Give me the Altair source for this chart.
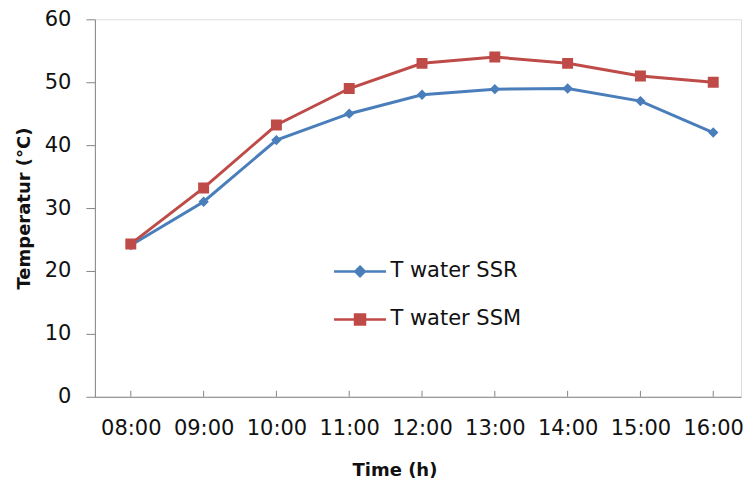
import altair as alt
import pandas as pd

# ---- data ----
times = ["08:00", "09:00", "10:00", "11:00", "12:00", "13:00", "14:00", "15:00", "16:00"]
ssr = [24.1, 31, 40.8, 45, 48, 48.9, 49, 47, 42]
ssm = [24.3, 33.2, 43.2, 49, 53, 54, 53, 51, 50]
series_names = ["T water SSR", "T water SSM"]
colors = ["#4A7EBB", "#BE4B48"]
# marker paths (unit box); the horizontal sub-path is only visible where a stroke is
# drawn, i.e. in the legend, giving the Excel-like "line with marker" legend symbol
shapes = [
    "M-5.2,0H5.2M0,-0.95L0.95,0L0,0.95L-0.95,0Z",
    "M-5.2,0H5.2M-1,-1H1V1H-1Z",
]
y_ticks = [0, 10, 20, 30, 40, 50, 60]

rows = []
for t, a, b in zip(times, ssr, ssm):
    rows.append({"time": t, "series": series_names[0], "value": a})
    rows.append({"time": t, "series": series_names[1], "value": b})
df = pd.DataFrame(rows)
tick_df = pd.DataFrame({"time": times})

FONT = "DejaVu Sans"
TXT = "#111111"
AX = "#868686"

xscale = alt.Scale(type="point", domain=times, padding=0.4375, align=0.564)
yscale = alt.Scale(domain=[0, 60], nice=False, zero=True)

x_enc = alt.X(
    "time:N", scale=xscale, sort=times,
    axis=alt.Axis(
        title="Time (h)", labelAngle=0, labelAlign="center", ticks=False, grid=False,
        domainColor=AX, domainWidth=1,
        labelFont=FONT, labelFontSize=21, labelColor=TXT, labelPadding=32,
        titleFont=FONT, titleFontSize=18, titleFontWeight="bold", titleColor=TXT,
        titlePadding=23, titleX=300, titleAlign="center",
    ),
)
y_enc = alt.Y(
    "value:Q", scale=yscale,
    axis=alt.Axis(
        title="Temperatur (°C)", values=y_ticks, grid=False,
        tickSize=9, tickColor=AX, domainColor=AX,
        labelFont=FONT, labelFontSize=21, labelColor=TXT, labelPadding=15,
        titleFont=FONT, titleFontSize=18, titleFontWeight="bold", titleColor=TXT,
        titlePadding=11,
    ),
)

legend = alt.Legend(
    orient="none", legendX=255, legendY=242, title=None,
    symbolSize=100, symbolStrokeWidth=2.5,
    labelFont=FONT, labelFontSize=21, labelColor=TXT, labelOffset=20,
    rowPadding=26, padding=0,
)

# line colours: same colour mapping, domain listed in the other order so that this
# (legend-less) scale is kept apart from the marker legend
lines = alt.Chart(df).mark_line(strokeWidth=3).encode(
    x=x_enc, y=y_enc,
    color=alt.Color("series:N",
                    scale=alt.Scale(domain=series_names[::-1], range=colors[::-1]),
                    legend=None),
)

points = alt.Chart(df).mark_point(filled=True, opacity=1, strokeWidth=0, size=120).encode(
    x=x_enc, y=y_enc,
    fill=alt.Fill("series:N", sort=series_names,
                  scale=alt.Scale(domain=series_names, range=colors),
                  legend=legend),
    stroke=alt.Stroke("series:N", sort=series_names,
                      scale=alt.Scale(domain=series_names, range=colors),
                      legend=legend),
    shape=alt.Shape("series:N", sort=series_names,
                    scale=alt.Scale(domain=series_names, range=shapes),
                    legend=legend),
)

xticks = alt.Chart(tick_df).mark_rule(color=AX, strokeWidth=1).encode(
    x=alt.X("time:N", scale=xscale, sort=times),
    y=alt.datum(0),
    y2=alt.datum(0.95),
)

chart = (
    alt.layer(xticks, lines, points)
    .properties(width=647, height=378, padding={"left": 7, "top": 0, "right": 0, "bottom": 0})
    .configure_view(stroke=None)
    .configure(background="white")
)

chart.save("out.html", embed_options={"renderer": "svg", "actions": False})
